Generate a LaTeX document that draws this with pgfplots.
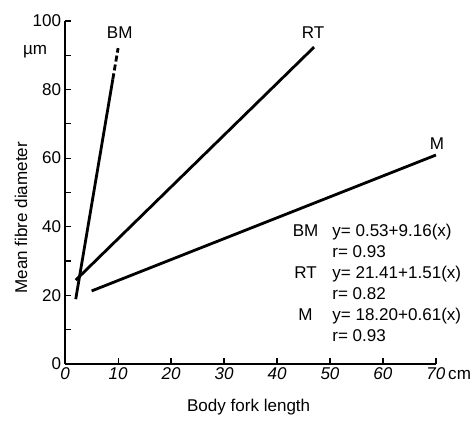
\documentclass[border=0pt]{standalone}
\usepackage{fontspec}
\setmainfont{Liberation Sans}
\usepackage{pgfplots}
\pgfplotsset{compat=1.18}
\begin{document}
\fontsize{8.5}{10.5}\selectfont
\begin{tikzpicture}
\begin{axis}[
 scale only axis, width=185pt, height=171pt,
 xmin=0, xmax=70, ymin=0, ymax=100,
 axis x line=bottom, axis y line=left,
 axis line style={-, line width=0.8pt},
 xtick={0,10,...,70}, ytick={0,10,...,100},
 xticklabels={0,10,20,30,40,50,60,{70\rlap{\upshape\,cm}}},
 yticklabels={0,,20,,40,,60,,80,,100},
 tick style={black, line width=0.6pt}, major tick length=3pt,
 tick align=inside,
 /pgf/number format/assume math mode=true,
 xticklabel style={font=\itshape, yshift=1pt},
 yticklabel style={xshift=1pt},
 xlabel={Body fork length}, ylabel={Mean fibre diameter},
 every axis x label/.style={at={(rel axis cs:0.495,0)}, anchor=base, yshift=-24pt},
 every axis y label/.style={at={(rel axis cs:0,0.426)}, anchor=base, rotate=90, yshift=19pt},
 clip=false,
]
% BM: y = 0.53 + 9.16x
\addplot[black, line width=1.4pt] coordinates {(2,18.85) (9,83)};
\addplot[black, line width=1.4pt, dash pattern=on 3pt off 1.5pt] coordinates {(9,83) (10,92.1)};
% RT: y = 21.41 + 1.51x
\addplot[black, line width=1.4pt] coordinates {(2,24.4) (47,92.4)};
% M: y = 18.20 + 0.61x
\addplot[black, line width=1.4pt] coordinates {(5,21.25) (70,60.9)};
\node at (axis cs:10.3,96.5) {BM};
\node at (axis cs:46.8,96.5) {RT};
\node at (axis cs:70.2,64.3) {M};
\node at (rel axis cs:0,0.91) [xshift=-15pt] {µm};
\node[anchor=north west, inner sep=0pt] at (axis cs:42.9,41.5) {%
\setlength{\tabcolsep}{0pt}\renewcommand{\arraystretch}{1.0}%
\begin{tabular}{@{}c@{\hspace{7pt}}l@{}}
BM & y= 0.53+9.16(x)\\
   & r= 0.93\\
RT & y= 21.41+1.51(x)\\
   & r= 0.82\\
M  & y= 18.20+0.61(x)\\
   & r= 0.93
\end{tabular}};
\end{axis}
\pgfresetboundingbox
\path (current axis.south west) ++(-32.5pt,-30pt) rectangle ([shift={(18pt,10.5pt)}]current axis.north east);
\end{tikzpicture}
\end{document}
